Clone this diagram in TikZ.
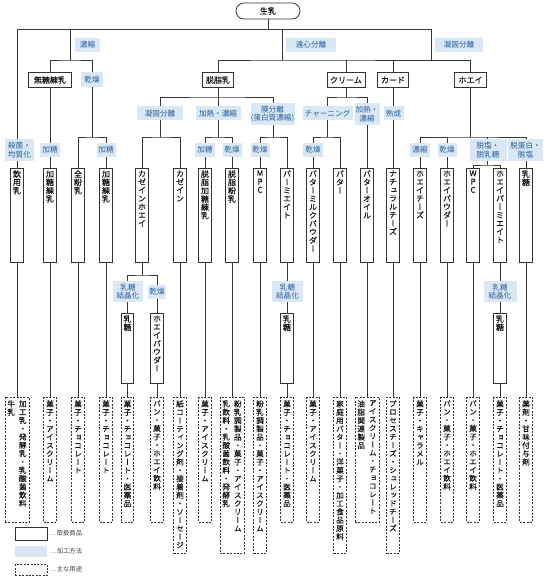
\documentclass[tikz,border=0pt]{standalone}
\usepackage{fontspec}
\newfontfamily\jp[FakeBold=0.15]{Noto Sans CJK JP}
\newfontfamily\vjp[RawFeature=+vert,FakeBold=0.15]{Noto Sans CJK JP}
\newfontfamily\jpl{Noto Sans CJK JP}
\usetikzlibrary{backgrounds}
\definecolor{lfill}{RGB}{218,232,245}
\definecolor{ltext}{RGB}{38,92,152}
\definecolor{lncol}{RGB}{55,55,55}
\ExplSyntaxOn
\NewDocumentCommand\vt{mm}{
  \vbox_to_ht:nn {#1} {
    \baselineskip=8.3pt
    \lineskiplimit=-\maxdimen
    \tl_map_inline:nn {#2} { \hbox_to_wd:nn {1em} { \hss ##1 \hss } }
    \vss
  }
}
\ExplSyntaxOff
\begin{document}
\begin{tikzpicture}[x=1pt,y=-1pt,
  prod/.style={draw=black!80, line width=0.75pt, fill=white, text=black!92, inner xsep=2.25pt, inner ysep=2pt, anchor=north, font=\vjp\fontsize{8}{8.3}\selectfont},
  appl/.style={draw=black!80, line width=0.75pt, dash pattern=on 2pt off 1.4pt, fill=white, text=black!92, inner xsep=2.5pt, inner ysep=3pt, anchor=north, font=\vjp\fontsize{7.6}{8.3}\selectfont},
  hprod/.style={draw=black!80, line width=0.75pt, fill=white, text=black!92, inner sep=0pt, minimum height=15pt, font=\jp\fontsize{8}{9}\selectfont},
  lab/.style={fill=lfill, text=ltext, inner sep=0pt, minimum height=14pt, align=center, font=\jpl\fontsize{7.6}{8.7}\selectfont},
  lab2/.style={lab, minimum height=21.5pt},
  conn/.style={draw=lncol, line width=0.9pt},
  legtext/.style={text=black!75, inner sep=0pt, anchor=west, font=\jpl\fontsize{6.3}{7}\selectfont}
]
\path[use as bounding box] (0,0) rectangle (545,577);

% root
\node[draw=black!80, line width=0.75pt, fill=white, rounded corners=8pt, minimum width=64pt, minimum height=16pt, inner sep=0pt, font=\jp\fontsize{8}{9}\selectfont] (root) at (268,11) {生乳};

% top labels
\node[lab, minimum width=25pt] (tl1) at (87.5,45) {濃縮};
\node[lab, minimum width=50pt] (tl2) at (311,45) {遠心分離};
\node[lab, minimum width=48pt] (tl3) at (459,45) {凝固分離};

% level 2
\node[hprod, minimum width=43pt] (mutou) at (50,80) {無糖練乳};
\node[lab, minimum width=22pt, minimum height=15pt] (l2k) at (92,80) {乾燥};
\node[hprod, minimum width=31pt] (dassi) at (218,80) {脱脂乳};
\node[hprod, minimum width=38pt] (cream) at (346,80) {クリーム};
\node[hprod, minimum width=31pt] (curd) at (393,80) {カード};
\node[hprod, minimum width=32pt] (whey) at (470.5,80) {ホエイ};

% level 3 labels
\node[lab, minimum width=46pt] (l3a) at (160,113.5) {凝固分離};
\node[lab, minimum width=45pt] (l3b) at (218,113.5) {加熱・濃縮};
\node[lab2, minimum width=44pt] (l3c) at (272.5,114) {膜分離\\(蛋白質濃縮)};
\node[lab, minimum width=50pt] (l3d) at (327.5,113.5) {チャーニング};
\node[lab2, minimum width=25pt] (l3e) at (367,114) {加熱・\\濃縮};
\node[lab, minimum width=20pt] (l3f) at (393.5,113.5) {熟成};

% level 4 labels
\node[lab2, minimum width=29pt] (m1) at (19.5,150) {殺菌・\\均質化};
\node[lab, minimum width=20pt] (m2) at (50,150) {加糖};
\node[lab, minimum width=19pt] (m4) at (106,150) {加糖};
\node[lab, minimum width=20pt] (m7) at (205,150) {加糖};
\node[lab, minimum width=19pt] (m8) at (232,150) {乾燥};
\node[lab, minimum width=19pt] (m9) at (260,150) {乾燥};
\node[lab, minimum width=20pt] (m11) at (313,150) {乾燥};
\node[lab, minimum width=20pt] (m15) at (420,150) {濃縮};
\node[lab, minimum width=19pt] (m16) at (447,150) {乾燥};
\node[lab2, minimum width=37pt] (m17) at (488,150) {脱塩・\\脱乳糖};
\node[lab2, minimum width=35pt] (m19) at (525.5,150) {脱蛋白・\\脱塩};

% level 4 products
\node[prod] (p1) at (17,168) {\vt{90pt}{飲用乳}};
\node[prod] (p2) at (50,168) {\vt{90pt}{加糖練乳}};
\node[prod] (p3) at (78,168) {\vt{90pt}{全粉乳}};
\node[prod] (p4) at (106,168) {\vt{90pt}{加糖練乳}};
\node[prod] (p5) at (142,168) {\vt{90pt}{カゼインホエイ}};
\node[prod] (p6) at (180,168) {\vt{90pt}{カゼイン}};
\node[prod] (p7) at (205,168) {\vt{90pt}{脱脂加糖練乳}};
\node[prod] (p8) at (232,168) {\vt{90pt}{脱脂粉乳}};
\node[prod] (p9) at (260,168) {\vt{90pt}{MPC}};
\node[prod] (p10) at (287,168) {\vt{90pt}{パーミエイト}};
\node[prod] (p11) at (313,168) {\vt{90pt}{バターミルクパウダー}};
\node[prod] (p12) at (340,168) {\vt{90pt}{バター}};
\node[prod] (p13) at (367,168) {\vt{90pt}{バターオイル}};
\node[prod] (p14) at (393,168) {\vt{90pt}{ナチュラルチーズ}};
\node[prod] (p15) at (420,168) {\vt{90pt}{ホエイチーズ}};
\node[prod] (p16) at (447,168) {\vt{90pt}{ホエイパウダー}};
\node[prod] (p17) at (473,168) {\vt{90pt}{WPC}};
\node[prod] (p18) at (500,168) {\vt{90pt}{ホエイパーミエイト}};
\node[prod] (p19) at (526,168) {\vt{90pt}{乳糖}};

% level 5 labels
\node[lab2, minimum width=30pt] (l5a) at (128,291.5) {乳糖\\結晶化};
\node[lab, minimum width=18pt] (l5b) at (157,292) {乾燥};
\node[lab2, minimum width=31pt] (l5c) at (287.5,291.5) {乳糖\\結晶化};
\node[lab2, minimum width=33pt] (l5d) at (500,291.5) {乳糖\\結晶化};

% level 5 products
\node[prod] (s1) at (127.5,313) {\vt{66pt}{乳糖}};
\node[prod] (s2) at (157,313) {\vt{66pt}{ホエイパウダー}};
\node[prod] (s3) at (287,313) {\vt{66pt}{乳糖}};
\node[prod] (s4) at (500,313) {\vt{66pt}{乳糖}};

% uses
\node[appl] (u1) at (17,397) {\vt{119pt}{牛乳}\hspace{4pt}\vt{119pt}{加工乳・発酵乳・乳酸菌飲料}};
\node[appl] (u2) at (50,397) {\vt{119pt}{菓子・アイスクリーム}};
\node[appl] (u3) at (78,397) {\vt{119pt}{菓子・チョコレート}};
\node[appl] (u4) at (106,397) {\vt{119pt}{菓子・チョコレート}};
\node[appl] (ua) at (127.5,397) {\vt{119pt}{菓子・チョコレート・医薬品}};
\node[appl] (ub) at (157,397) {\vt{119pt}{パン・菓子・ホエイ飲料}};
\node[appl] (u6) at (180,397) {\vt{150pt}{紙コーティング剤・接着剤・ソーセージ}};
\node[appl] (u7) at (205,397) {\vt{119pt}{菓子・アイスクリーム}};
\node[appl] (u8) at (232,397) {\vt{150pt}{乳飲料・乳酸菌飲料・発酵乳}\hspace{4pt}\vt{150pt}{粉乳調製品・菓子・アイスクリーム}};
\node[appl] (u9) at (260,397) {\vt{150pt}{粉乳調製品・菓子・アイスクリーム}};
\node[appl] (uc) at (287,397) {\vt{119pt}{菓子・チョコレート・医薬品}};
\node[appl] (u11) at (313,397) {\vt{119pt}{菓子・アイスクリーム}};
\node[appl] (u12) at (340,397) {\vt{150pt}{家庭用バター・洋菓子・加工食品原料}};
\node[appl] (u13) at (367,397) {\vt{119pt}{油脂関連製品}\hspace{4pt}\vt{119pt}{アイスクリーム・チョコレート}};
\node[appl] (u14) at (393,397) {\vt{150pt}{プロセスチーズ・シュレッドチーズ}};
\node[appl] (u15) at (420,397) {\vt{119pt}{菓子・キャラメル}};
\node[appl] (u16) at (447,397) {\vt{119pt}{パン・菓子・ホエイ飲料}};
\node[appl] (u17) at (473,397) {\vt{119pt}{パン・菓子・ホエイ飲料}};
\node[appl] (ud) at (500,397) {\vt{119pt}{菓子・チョコレート・医薬品}};
\node[appl] (u19) at (526,397) {\vt{119pt}{薬剤・甘味付与剤}};

% legend
\node[hprod, minimum width=32pt, minimum height=13pt, anchor=north west] (lg1) at (15,527) {};
\node[legtext] (lt1) at (50,533.5) {…取扱商品};
\node[lab, minimum width=32pt, minimum height=11pt, anchor=north west] (lg2) at (15,546) {};
\node[legtext] (lt2) at (50,551.5) {…加工方法};
\node[appl, minimum width=32pt, minimum height=11pt, anchor=north west, inner sep=0pt] (lg3) at (15,564) {};
\node[legtext] (lt3) at (50,569.5) {…主な用途};

% connectors
\begin{pgfonlayer}{background}
\fill[white] (0,0) rectangle (545,577);
\coordinate (j0L) at (17,29);
\coordinate (j0R) at (431,29);
\coordinate (jA) at (70,29);
\coordinate (jA2) at (70,60);
\coordinate (k1) at (92,137);
\coordinate (jB) at (282,29);
\coordinate (jB2) at (282,60);
\coordinate (jC2) at (431,60);
\coordinate (d1) at (218,97);
\coordinate (q1) at (160,137);
\coordinate (q2) at (218,137);
\coordinate (q3) at (273,137);
\coordinate (c1) at (346,97);
\coordinate (r1) at (327,137);
\coordinate (w1) at (470.5,137);
\coordinate (w3) at (487,165);
\coordinate (e1) at (142,275);

\draw[conn] (root.south) -- (root.south |- j0L);
\draw[conn] (j0L) -- (j0R);
\draw[conn] (j0L) -- (p1.north);
\draw[conn] (jA) -- (jA2);
\draw[conn] (mutou.north) |- (jA2) -| (k1);
\draw[conn] (mutou.south) -- (p2.north);
\draw[conn] (p3.north) |- (k1) -| (p4.north);

\draw[conn] (jB) -- (jB2);
\draw[conn] (j0R) -- (jC2);
\draw[conn] (dassi.north) |- (jB2) -| (whey.north);
\draw[conn] (cream.north) -- (cream.north |- jB2);
\draw[conn] (curd.north) -- (curd.north |- jB2);

\draw[conn] (dassi.south) -- (q2);
\draw[conn] (q1) |- (d1) -| (q3);
\draw[conn] (p5.north) |- (q1) -| (p6.north);
\draw[conn] (p7.north) |- (q2) -| (p8.north);
\draw[conn] (p9.north) |- (q3) -| (p10.north);

\draw[conn] (cream.south) -- (c1);
\draw[conn] (r1) |- (c1) -| (p13.north);
\draw[conn] (p11.north) |- (r1) -| (p12.north);
\draw[conn] (curd.south) -- (p14.north);

\draw[conn] (whey.south) -- (w1);
\draw[conn] (p15.north) |- (w1) -| (p19.north);
\draw[conn] (p16.north) -- (p16.north |- w1);
\draw[conn] (w3) -- (w3 |- w1);
\draw[conn] (p17.north) |- (w3) -| (p18.north);

\draw[conn] (p5.south) -- (e1);
\draw[conn] (s1.north) |- (e1) -| (s2.north);
\draw[conn] (p10.south) -- (s3.north);
\draw[conn] (p18.south) -- (s4.north);

\draw[conn] (p1.south) -- (u1.north);
\draw[conn] (p2.south) -- (u2.north);
\draw[conn] (p3.south) -- (u3.north);
\draw[conn] (p4.south) -- (u4.north);
\draw[conn] (s1.south) -- (ua.north);
\draw[conn] (s2.south) -- (ub.north);
\draw[conn] (p6.south) -- (u6.north);
\draw[conn] (p7.south) -- (u7.north);
\draw[conn] (p8.south) -- (u8.north);
\draw[conn] (p9.south) -- (u9.north);
\draw[conn] (s3.south) -- (uc.north);
\draw[conn] (p11.south) -- (u11.north);
\draw[conn] (p12.south) -- (u12.north);
\draw[conn] (p13.south) -- (u13.north);
\draw[conn] (p14.south) -- (u14.north);
\draw[conn] (p15.south) -- (u15.north);
\draw[conn] (p16.south) -- (u16.north);
\draw[conn] (p17.south) -- (u17.north);
\draw[conn] (s4.south) -- (ud.north);
\draw[conn] (p19.south) -- (u19.north);
\end{pgfonlayer}
\end{tikzpicture}
\end{document}
